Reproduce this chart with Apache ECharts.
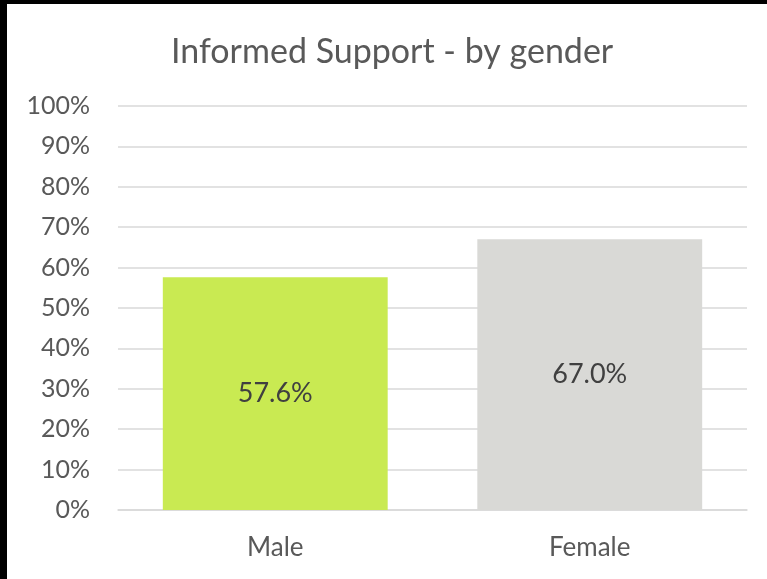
<!DOCTYPE html>
<html><head><meta charset="utf-8">
<script src="https://cdn.jsdelivr.net/npm/echarts@6/dist/echarts.min.js"></script>
<style>html,body{margin:0;padding:0;background:#000;}#c{width:767px;height:579px;}</style>
</head><body><div id="c"></div>
<script>
const categories = ['Male', 'Female'];
const values = [57.6, 67.0];
const barColors = ['#C9EA52', '#D9D9D6'];
const titleText = 'Informed Support - by gender';

const chart = echarts.init(document.getElementById('c'), null, {renderer: 'canvas'});
chart.setOption({
  backgroundColor: '#ffffff',
  animation: false,
  graphic: [
    {type: 'rect', shape: {x: 0, y: 0, width: 767, height: 4}, style: {fill: '#000'}, z: 100},
    {type: 'rect', shape: {x: 0, y: 0, width: 7, height: 579}, style: {fill: '#000'}, z: 100}
  ],
  title: {
    text: titleText, left: 166, top: 30,
    textStyle: {fontFamily: 'Lato', fontSize: 34, fontWeight: 'normal', color: '#595959'}
  },
  grid: {left: 118, right: 20, top: 106, bottom: 69, containLabel: false},
  xAxis: {
    type: 'category', data: categories,
    axisLine: {lineStyle: {color: '#D9D9D9', width: 1.5}},
    axisTick: {show: false},
    axisLabel: {fontFamily: 'Lato', fontSize: 26, color: '#595959', margin: 25}
  },
  yAxis: {
    type: 'value', min: 0, max: 100, interval: 10,
    axisLine: {show: false}, axisTick: {show: false},
    splitLine: {lineStyle: {color: '#D9D9D9', width: 1.5}},
    axisLabel: {fontFamily: 'Lato', fontSize: 25, color: '#595959', margin: 28, formatter: '{value}%'}
  },
  series: [{
    type: 'bar', barWidth: '71.5%',
    data: values.map((v, i) => ({value: v, itemStyle: {color: barColors[i]}})),
    label: {show: true, position: 'inside', fontFamily: 'Lato', fontSize: 27, color: '#404040',
      formatter: p => p.value.toFixed(1) + '%'}
  }]
});
</script></body></html>
